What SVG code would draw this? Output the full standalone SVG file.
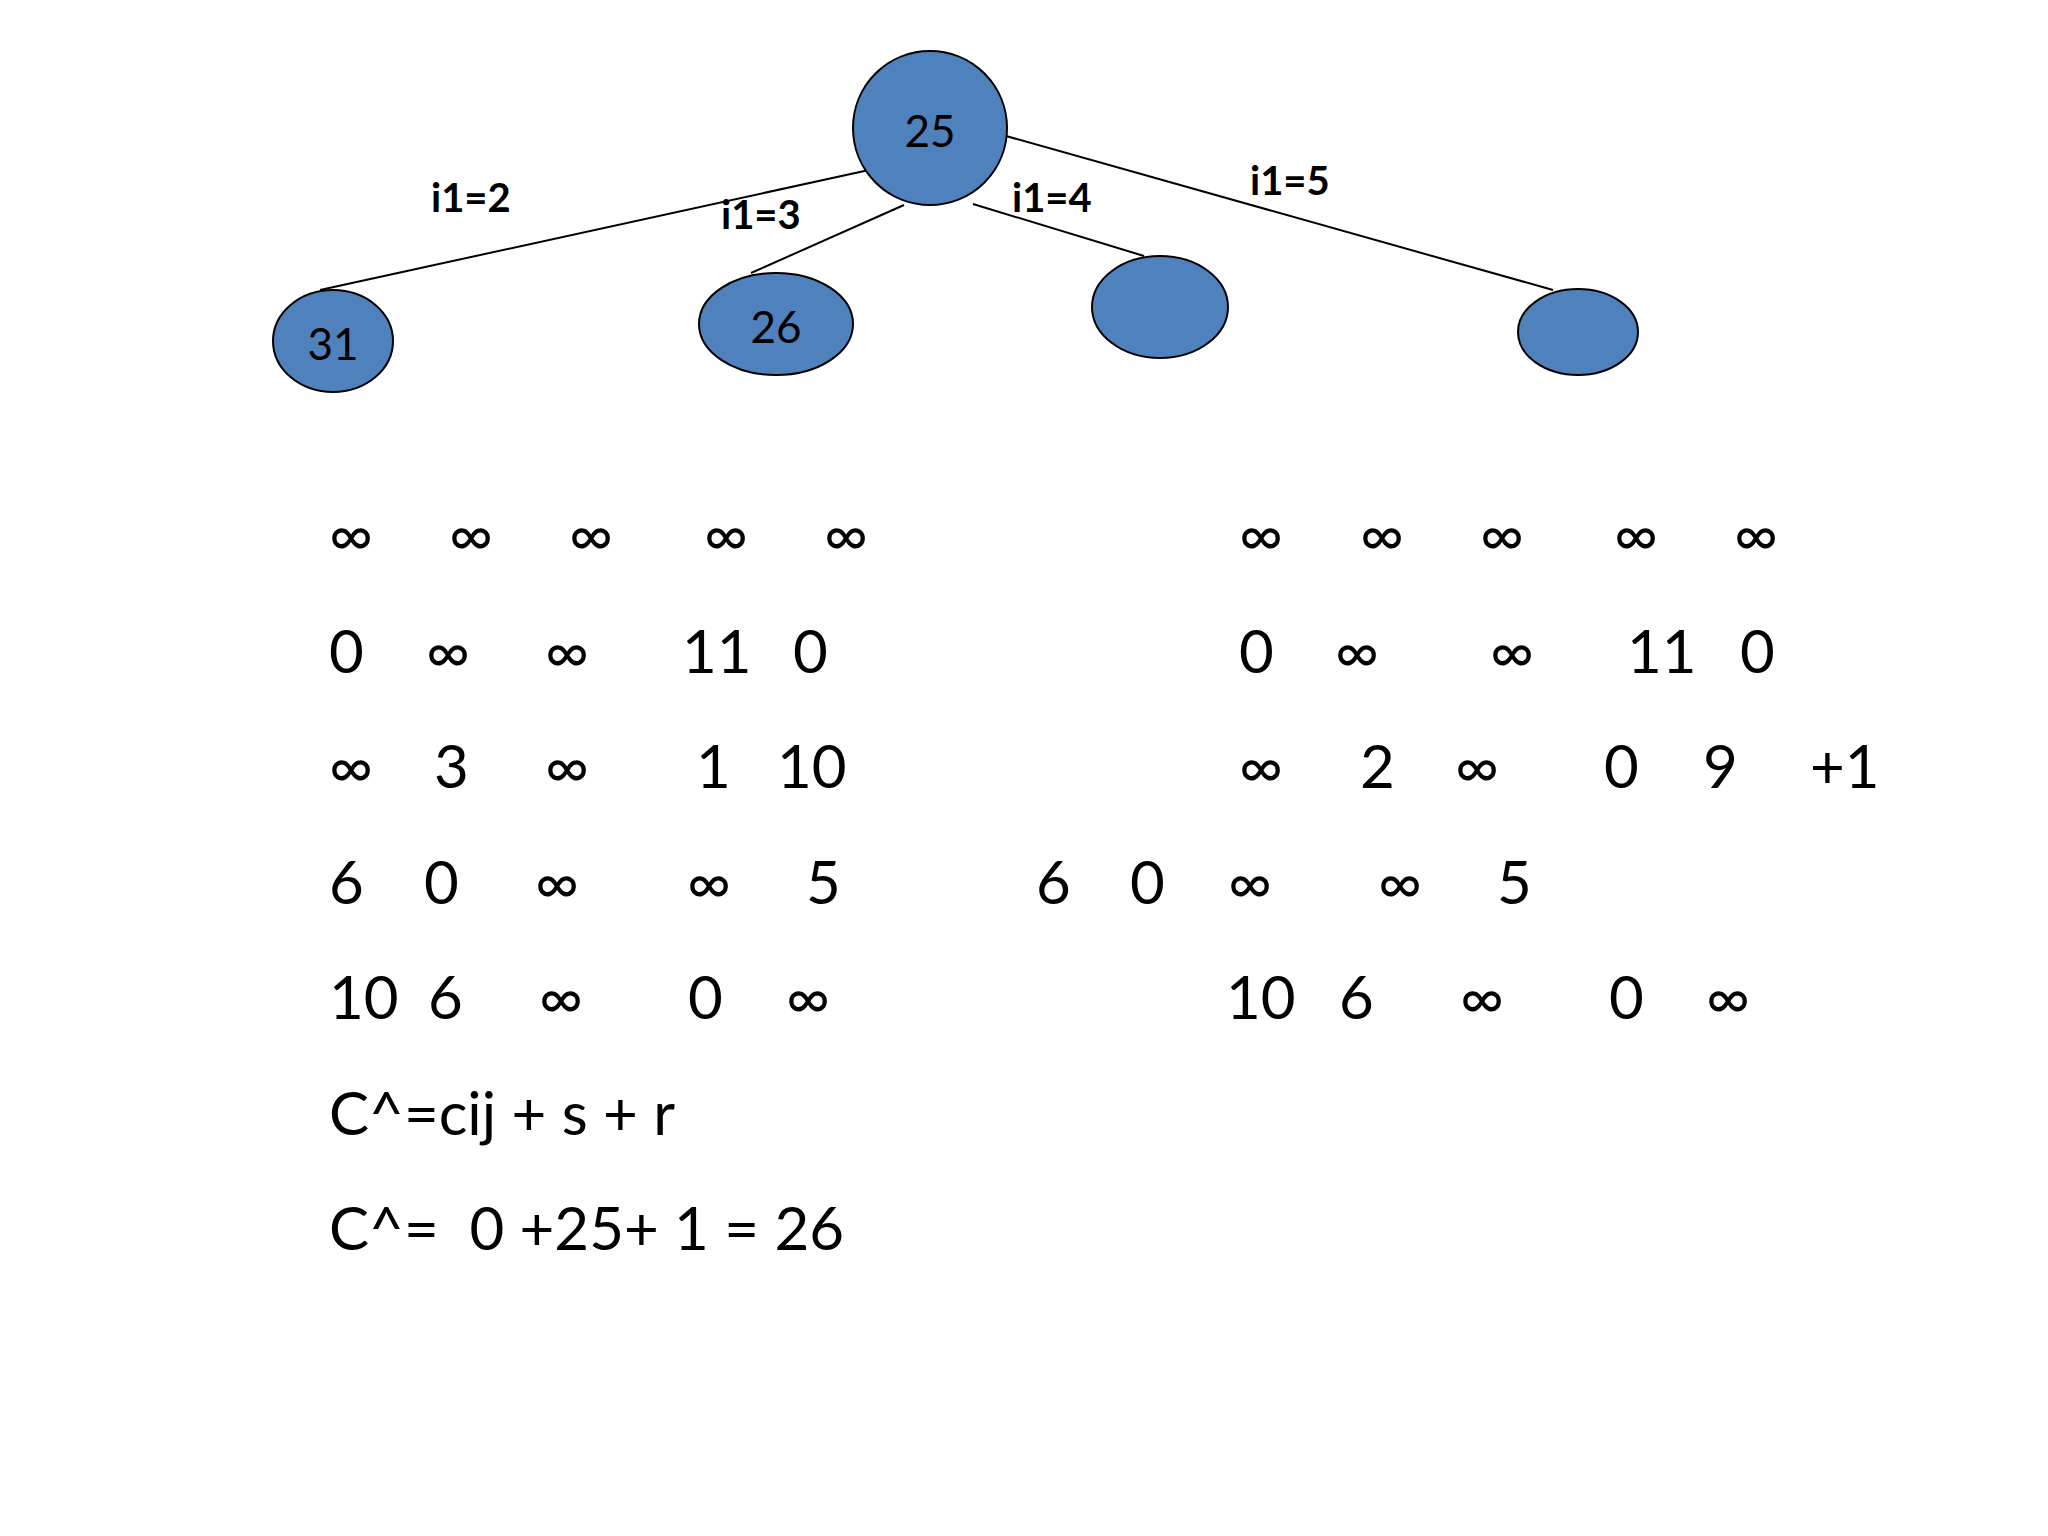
<svg xmlns="http://www.w3.org/2000/svg" width="2048" height="1536" viewBox="0 0 2048 1536">
<style>
.n{fill:#4F81BD;stroke:#000;stroke-width:2}
.nt{font-family:Lato,"Open Sans",sans-serif;font-size:44px;text-anchor:middle;fill:#000}
.lb{font-family:Lato,"Open Sans",sans-serif;font-size:40px;font-weight:bold;fill:#000}
.m{font-family:Lato,"Open Sans",sans-serif;font-size:60px;fill:#000}
line{stroke:#000;stroke-width:2}
</style>
<rect width="2048" height="1536" fill="#fff"/>
<g id="connectors">
<line x1="869" y1="170" x2="320" y2="290"/>
<line x1="904" y1="205" x2="751" y2="273"/>
<line x1="973" y1="204" x2="1144" y2="256"/>
<line x1="1006" y1="136" x2="1553" y2="290"/>
</g>
<g id="root"><circle class="n" cx="930" cy="128" r="77"/><text class="nt" x="930" y="147">25</text></g>
<g id="n31"><ellipse class="n" cx="333" cy="341" rx="60" ry="51"/><text class="nt" x="333" y="360">31</text></g>
<g id="n26"><ellipse class="n" cx="776" cy="324" rx="77" ry="51"/><text class="nt" x="776" y="343">26</text></g>
<g id="n3"><ellipse class="n" cx="1160" cy="307" rx="68" ry="51"/></g>
<g id="n4"><ellipse class="n" cx="1578" cy="332" rx="60" ry="43"/></g>
<g id="labels">
<text class="lb" x="431" y="212">i1=2</text>
<text class="lb" x="721" y="229">i1=3</text>
<text class="lb" x="1012" y="212">i1=4</text>
<text class="lb" x="1250" y="195">i1=5</text>
</g>
<g id="matrix" class="m">
<text x="329" y="556">∞</text><text x="449" y="556">∞</text><text x="569" y="556">∞</text><text x="704" y="556">∞</text><text x="824" y="556">∞</text>
<text x="329" y="673">0</text><text x="426" y="673">∞</text><text x="545" y="673">∞</text><text x="682" y="673">11</text><text x="793" y="673">0</text>
<text x="329" y="788">∞</text><text x="434" y="788">3</text><text x="545" y="788">∞</text><text x="696" y="788">1</text><text x="777" y="788">10</text>
<text x="329" y="904">6</text><text x="424" y="904">0</text><text x="535" y="904">∞</text><text x="687" y="904">∞</text><text x="806" y="904">5</text>
<text x="329" y="1019">10</text><text x="428" y="1019">6</text><text x="539" y="1019">∞</text><text x="688" y="1019">0</text><text x="786" y="1019">∞</text>
<text x="329" y="1135">C^=cij + s + r</text>
<text x="329" y="1250" xml:space="preserve">C^=  0 +25+ 1 = 26</text>
<text x="1239" y="556">∞</text><text x="1360" y="556">∞</text><text x="1480" y="556">∞</text><text x="1614" y="556">∞</text><text x="1734" y="556">∞</text>
<text x="1239" y="673">0</text><text x="1335" y="673">∞</text><text x="1490" y="673">∞</text><text x="1627" y="673">11</text><text x="1740" y="673">0</text>
<text x="1239" y="788">∞</text><text x="1360" y="788">2</text><text x="1455" y="788">∞</text><text x="1604" y="788">0</text><text x="1703" y="788">9</text><text x="1810" y="788">+1</text>
<text x="1036" y="904">6</text><text x="1130" y="904">0</text><text x="1228" y="904">∞</text><text x="1378" y="904">∞</text><text x="1497" y="904">5</text>
<text x="1226" y="1019">10</text><text x="1339" y="1019">6</text><text x="1460" y="1019">∞</text><text x="1609" y="1019">0</text><text x="1706" y="1019">∞</text>
</g>
</svg>
